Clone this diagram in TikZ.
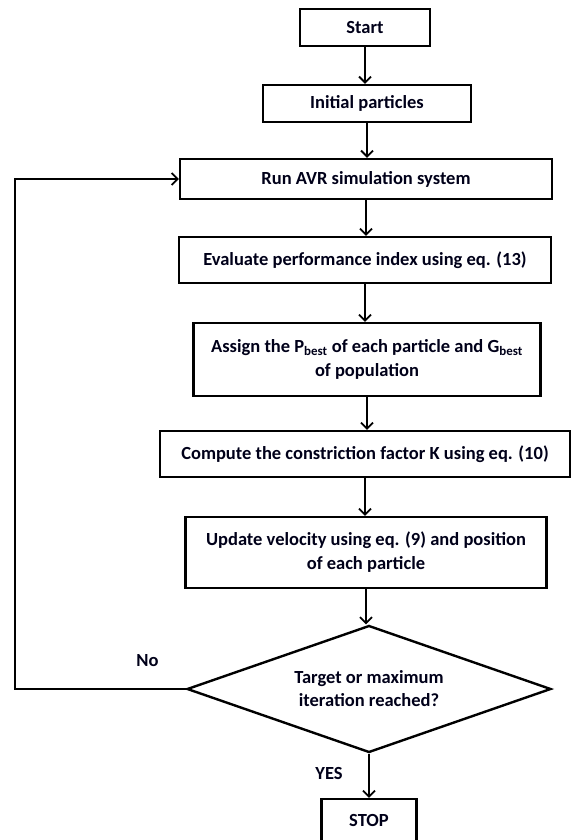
\documentclass[tikz,border=0pt]{standalone}
\usepackage{fontspec}
\setmainfont{Carlito}
\usetikzlibrary{shapes.geometric,arrows.meta}
\tikzset{
  boxnode/.style={draw, line width=2.4pt, rectangle, inner sep=0pt, align=center,
    font=\fontsize{18.5}{24}\selectfont\bfseries, text=black!90!blue},
  decnode/.style={draw, line width=2.4pt, diamond, aspect=2.87, inner sep=0pt, align=center,
    font=\fontsize{18.5}{23}\selectfont\bfseries, text=black!90!blue},
  lbl/.style={font=\fontsize{18.5}{20}\selectfont\bfseries, text=black!90!blue, inner sep=0pt},
  flow/.style={line width=1.8pt, -{Straight Barb[length=6pt,width=12pt,line width=1.8pt]}},
}
\begin{document}
\begin{tikzpicture}[x=1pt,y=-1pt]
\useasboundingbox (0,0) rectangle (571,840);
\node[boxnode, minimum width=130, minimum height=37] (start) at (365,27.5) {Start};
\node[boxnode, minimum width=208, minimum height=37] (init) at (367,103.5) {Initial particles};
\node[boxnode, minimum width=372, minimum height=40] (run) at (366,179) {Run AVR simulation system};
\node[boxnode, minimum width=372, minimum height=46] (eval) at (365,260) {Evaluate performance index using eq. (13)};
\node[boxnode, minimum width=347, minimum height=73] (assign) at (367,359.5) {Assign the P\textsubscript{best} of each particle and G\textsubscript{best}\\of population};
\node[boxnode, minimum width=410, minimum height=46] (comp) at (365,454) {Compute the constriction factor K using eq. (10)};
\node[boxnode, minimum width=361, minimum height=71] (upd) at (366,552.5) {Update velocity using eq. (9) and position\\of each particle};
\node[decnode, minimum width=364, minimum height=127] (dec) at (369,689) {Target or maximum\\iteration reached?};
\node[boxnode, minimum width=95, minimum height=43] (stop) at (369,820.5) {STOP};
\node[lbl] (no) at (147.5,661) {No};
\node[lbl] (yes) at (329,773) {YES};
\coordinate (lp) at (15,689);
\draw[flow] (start.south) -- (start.south |- init.north);
\draw[flow] (init.south) -- (init.south |- run.north);
\draw[flow] (run.south) -- (run.south |- eval.north);
\draw[flow] (eval.south) -- (eval.south |- assign.north);
\draw[flow] (assign.south) -- (assign.south |- comp.north);
\draw[flow] (comp.south) -- (comp.south |- upd.north);
\draw[flow] (upd.south) -- (upd.south |- dec.north);
\draw[flow] (dec.south) -- (dec.south |- stop.north);
\draw[flow] (dec.west) -- (lp) |- (run.west);
\end{tikzpicture}
\end{document}
